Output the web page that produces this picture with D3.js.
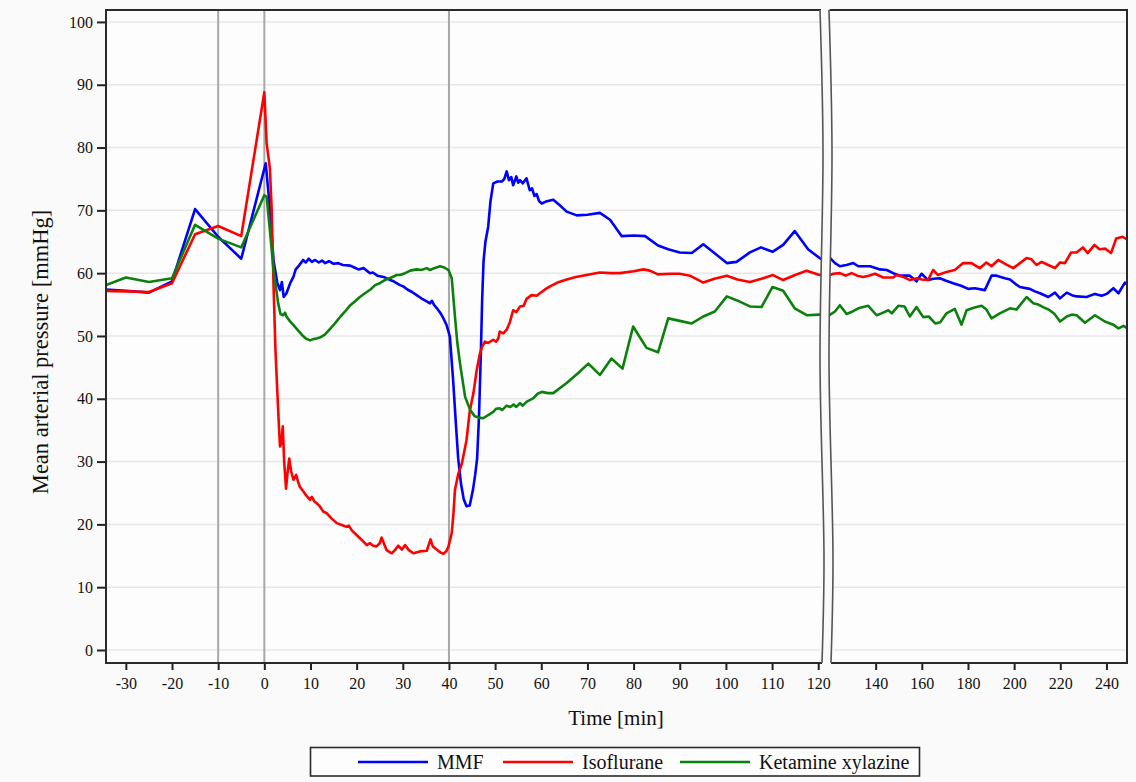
<!DOCTYPE html>
<html>
<head>
<meta charset="utf-8">
<script src="https://cdn.jsdelivr.net/npm/d3@7"></script>
<style>
  html, body { margin: 0; padding: 0; background: #fafafa; }
  svg { display: block; }
  text { font-family: "Liberation Serif", "Times New Roman", serif; fill: #111; }
</style>
</head>
<body>
<svg id="chart" width="1136" height="782"></svg>
<script>
// Mean arterial pressure [mmHg] over time [min], one [time, value] pair per sample
const mmf = [
  [-35,57.4],[-30,57.2],[-25,56.9],[-20,58.7],[-15,70.2],[-10,65.8],[-5,62.3],
  [0.3,77.5],[1,72],[2,62],[2.8,58.5],[3.4,57.3],[3.8,58.6],[4.2,56.2],[4.8,56.8],
  [5.6,58.4],[6.3,59.4],[6.8,60.6],[7.5,61.2],[8.4,62.1],[9,61.7],[9.6,62.3],
  [10.3,61.8],[11,62.1],[11.8,61.7],[12.5,62.0],[13.2,61.6],[14,61.9],[15,61.5],
  [16,61.6],[17,61.3],[18.6,61.2],[19.5,60.9],[20.4,60.6],[21.5,60.8],[22.9,60.0],
  [23.5,60.1],[24.5,59.6],[25.8,59.4],[27,59.0],[28,58.7],[29.4,58.1],[30.1,57.9],
  [31,57.4],[32,57.0],[33,56.5],[34,56.0],[35,55.6],[35.9,55.2],[36.3,55.6],
  [36.8,54.9],[37.5,54.3],[38.2,53.6],[38.8,52.8],[39.5,51.7],[40.2,49.9],
  [40.9,43],[41.5,36],[42,30.5],[42.6,26.5],[43.2,24],[43.8,22.9],[44.5,23.0],
  [45.2,25.5],[45.7,28],[46.1,30.5],[46.5,37],[46.9,47],[47.2,56],[47.5,62],
  [47.9,65],[48.5,67.4],[49.0,71.5],[49.6,74.3],[50.5,74.6],[51.5,74.6],[52.0,75.0],
  [52.5,76.2],[53.0,74.8],[53.5,75.3],[53.9,74.0],[54.6,75.4],[55.0,74.4],[55.4,74.8],
  [56.0,74.3],[56.8,75.1],[57.5,73.2],[58.0,73.5],[58.5,72.3],[59.0,72.6],[59.5,71.5],
  [60.1,71.1],[61,71.4],[62.6,71.7],[64,70.8],[65.5,69.8],[67.7,69.2],[70,69.3],
  [72.7,69.6],[74.9,68.5],[77.4,65.9],[80,66],[82.5,65.9],[85.3,64.4],[87.5,63.8],
  [90,63.3],[92.6,63.2],[95.1,64.6],[97.5,63.2],[100.2,61.6],[102.3,61.8],[105.2,63.3],
  [107.6,64.1],[110.1,63.4],[112.4,64.5],[114.9,66.7],[117.8,63.8],[120.3,62.4],
  [122.4,61.6],[124.5,61.1],[127.4,61.3],[130.3,61.6],[132.5,61.1],[135,61.1],
  [137.6,61.1],[141.9,60.6],[144.8,60.5],[147.6,60.0],[150.5,59.6],[154.8,59.6],
  [157.7,58.7],[159.9,59.9],[162.7,58.9],[165,59.1],[167.8,59.2],[170.5,58.8],
  [173.6,58.4],[177,58.0],[180.1,57.5],[183,57.6],[187.3,57.3],[190.2,59.6],
  [192.4,59.6],[196,59.2],[198.2,59.0],[200.5,58.3],[202.5,57.8],[206.8,57.5],
  [209,57.1],[211.2,56.8],[214.8,56.2],[217.7,56.9],[219.9,56.0],[222.8,56.9],
  [225,56.5],[227.1,56.3],[231.4,56.2],[235,56.7],[237.9,56.4],[240.1,56.7],
  [243,57.6],[245.2,56.8],[248,58.5],[250,57.9]
];

const isoflurane = [
  [-35,57.2],[-30,57.1],[-25,57.0],[-20,58.4],[-15,66.2],[-10,67.5],[-5,65.9],
  [0,88.8],[0.5,80.7],[1.2,76.7],[1.6,70],[2.0,58],[2.4,48],[2.7,43],[3.1,36.6],
  [3.4,32.4],[3.7,33],[4.0,35.6],[4.3,30],[4.7,25.7],[5.0,28],[5.4,30.5],[5.8,28.5],
  [6.3,27.1],[6.9,27.9],[7.3,26.8],[7.7,26.0],[8.5,25.2],[9.2,24.5],[9.9,23.9],
  [10.3,24.4],[10.8,23.7],[11.3,23.4],[12,22.9],[12.8,22.0],[13.5,21.8],[14.5,21.0],
  [15.7,20.2],[16.8,19.9],[17.8,19.6],[18.3,19.8],[19,19.0],[20,18.3],[21,17.6],
  [22.2,16.7],[22.9,17.0],[23.6,16.6],[24.3,16.5],[25,17.0],[25.4,17.9],[26,16.8],
  [26.5,15.9],[27.6,15.4],[28.3,15.9],[29,16.6],[29.8,16.0],[30.5,16.7],[31.3,15.9],
  [32.3,15.4],[33.7,15.7],[35.2,15.8],[36,17.6],[36.5,16.5],[37,16.2],[38,15.6],
  [38.8,15.3],[39.5,15.8],[39.9,16.5],[40.6,18.6],[41.0,22],[41.3,25.5],[42,28],
  [42.8,29.7],[43.8,33.4],[44.5,38],[45.3,40.9],[46,44.5],[46.7,47.2],[47.2,48.3],
  [47.8,49.1],[48.5,48.9],[49.6,49.4],[50.2,49.1],[50.7,49.6],[51,50.7],[51.8,50.4],
  [52.5,51],[53.2,52.2],[53.9,54.1],[54.6,53.8],[55.4,54.7],[56.2,54.8],[56.8,55.9],
  [57.9,56.5],[59,56.4],[59.7,56.8],[61,57.5],[61.9,57.9],[63.5,58.5],[65.5,59.0],
  [67.5,59.4],[69.8,59.7],[72.7,60.1],[75,60.0],[77,60.0],[80,60.3],[82.1,60.6],
  [83.5,60.4],[85.3,59.8],[88,59.9],[90,59.9],[92.2,59.6],[95.1,58.5],[97.5,59.1],
  [100.2,59.6],[102.5,59.0],[105.2,58.6],[107.7,59.1],[110.2,59.7],[112.4,58.9],
  [115,59.7],[117.5,60.4],[120.3,59.7],[121.7,59.9],[124.5,60.0],[127,59.6],
  [129.6,60.0],[132,59.6],[134.6,59.4],[137,59.6],[139.7,59.9],[143.3,59.3],
  [147.6,59.3],[149.1,59.7],[152,59.4],[154.8,58.9],[158,59.2],[160,59.0],
  [162.7,58.9],[164.9,60.5],[167,59.7],[170.7,60.2],[174.3,60.5],[177.9,61.6],
  [181.5,61.6],[185.1,60.8],[188,61.7],[190.2,61.1],[193.1,62.1],[196.5,61.4],
  [199.6,60.8],[202.5,61.6],[205.4,62.4],[207.5,62.2],[209.7,61.3],[211.9,61.8],
  [214.8,61.3],[217.7,60.8],[219.9,61.7],[222,61.6],[224.7,63.3],[227,63.3],
  [229.8,64.1],[231.9,63.2],[234.8,64.5],[237,63.8],[239.5,63.9],[242,63.2],
  [244.2,65.5],[247,65.8],[250,65.1]
];

const ketamineXylazine = [
  [-35,57.9],[-30,59.3],[-25,58.6],[-20,59.2],[-15,67.7],[-10,65.5],[-5,64.1],
  [0,72.4],[0.5,72.2],[1.2,66.9],[2.0,60.5],[3.0,55.2],[3.5,53.5],[4.1,53.3],
  [4.5,53.7],[4.8,53.1],[5.5,52.4],[6.6,51.5],[8.1,50.2],[9,49.6],[9.9,49.3],
  [10.6,49.5],[11.3,49.6],[12.2,49.8],[13.1,50.2],[14.2,51.1],[15.3,52],[16.5,53.1],
  [17.5,53.9],[18.5,54.8],[19.6,55.5],[20.7,56.2],[21.8,56.8],[23,57.4],[24,58.1],
  [25,58.4],[26.1,58.9],[27.5,59.3],[28.7,59.7],[29.4,59.7],[30.5,60.0],[31.6,60.4],
  [33,60.6],[34,60.5],[35.2,60.8],[35.9,60.5],[36.8,60.8],[38.1,61.1],[39,60.9],
  [39.9,60.5],[40.6,59.2],[41.3,53.1],[41.8,49],[42.4,45.6],[43.5,40.3],[44.6,38.2],
  [45.6,37.2],[46.5,37.0],[47.4,36.9],[48.5,37.4],[49.6,37.9],[50.2,38.4],[51,38.5],
  [51.5,38.2],[52.5,38.9],[53.3,38.7],[54,39.1],[54.6,38.7],[55.4,39.3],[56,38.9],
  [56.8,39.5],[58.3,40.1],[59.2,40.8],[60.1,41.1],[61.4,40.9],[62.6,40.9],[65.5,42.5],
  [68,44.1],[70.2,45.6],[72.7,43.8],[75.2,46.4],[77.6,44.8],[79.9,51.5],[82.8,48.1],
  [85.3,47.4],[87.5,52.8],[90,52.4],[92.6,52.0],[95.1,53.1],[97.6,53.9],[100.2,56.3],
  [102.3,55.7],[105.2,54.7],[107.7,54.6],[110.1,57.8],[112.4,57.2],[114.9,54.4],
  [117.5,53.3],[120.3,53.4],[122.4,53.9],[124.5,54.9],[127.4,53.5],[130,53.9],
  [132.5,54.4],[136.8,54.8],[140.4,53.3],[142.5,53.6],[145.5,54.1],[147,53.6],
  [149.8,54.8],[152.5,54.7],[154.8,53.1],[157.7,54.6],[160.6,53.0],[163,53.1],
  [165.8,52.0],[168,52.2],[170.7,53.6],[174.3,54.3],[177.2,51.8],[179.4,54.1],
  [182.5,54.5],[185.9,54.8],[188,54.2],[190.2,52.8],[193.8,53.6],[198.2,54.4],
  [201,54.2],[205.4,56.2],[208.3,55.2],[210.5,55.0],[212.6,54.6],[215,54.2],
  [217.5,53.5],[219.9,52.3],[222.8,53.1],[225,53.4],[227.1,53.3],[230.7,52.1],
  [235,53.3],[239.3,52.3],[243,51.8],[245.2,51.2],[247.4,51.6],[250,51.0]
];

const seriesNames = ["MMF", "Isoflurane", "Ketamine xylazine"];
const seriesColors = ["#0000ff", "#ff0000", "#0c800c"];
const seriesData = [mmf, isoflurane, ketamineXylazine];

const yTicks = d3.range(0, 101, 10);
const xTicksLeft = d3.range(-30, 121, 10);
const xTicksRight = [140, 160, 180, 200, 220, 240];
const markerTimes = [-10, 0, 40];

// Layout
const plotTop = 10, plotBottom = 663;
const leftPanel = [106, 821];
const rightPanel = [829.5, 1127];

const svg = d3.select("#chart");

const xLeft = d3.scaleLinear().domain([-34.3, 120.6]).range(leftPanel);
const xRight = d3.scaleLinear().domain([120, 248.9]).range(rightPanel);
const y = d3.scaleLinear().domain([-2.07, 101.9]).range([plotBottom, plotTop]);

const panels = [
  { id: "left", x: xLeft, range: leftPanel },
  { id: "right", x: xRight, range: rightPanel }
];

// Plot backgrounds and clip regions
const defs = svg.append("defs");
panels.forEach(p => {
  defs.append("clipPath").attr("id", "clip-" + p.id)
    .append("rect")
    .attr("x", p.range[0]).attr("y", plotTop)
    .attr("width", p.range[1] - p.range[0]).attr("height", plotBottom - plotTop);
  svg.append("rect")
    .attr("x", p.range[0]).attr("y", plotTop)
    .attr("width", p.range[1] - p.range[0]).attr("height", plotBottom - plotTop)
    .attr("fill", "#fdfdfd");
});

// Horizontal grid
panels.forEach(p => {
  svg.append("g").selectAll("line").data(yTicks).join("line")
    .attr("x1", p.range[0]).attr("x2", p.range[1])
    .attr("y1", d => y(d)).attr("y2", d => y(d))
    .attr("stroke", "#e7e7e7").attr("stroke-width", 1.5);
});

// Event markers
svg.append("g").selectAll("line").data(markerTimes).join("line")
  .attr("x1", d => xLeft(d)).attr("x2", d => xLeft(d))
  .attr("y1", plotTop).attr("y2", plotBottom)
  .attr("stroke", "#a8a8a8").attr("stroke-width", 2);

// Series lines, drawn in each panel with its own time scale
panels.forEach(p => {
  const g = svg.append("g").attr("clip-path", "url(#clip-" + p.id + ")");
  const line = d3.line().x(d => p.x(d[0])).y(d => y(d[1]));
  seriesData.forEach((data, i) => {
    g.append("path")
      .datum(data)
      .attr("d", line)
      .attr("fill", "none")
      .attr("stroke", seriesColors[i])
      .attr("stroke-width", 2.6)
      .attr("stroke-linejoin", "round");
  });
});

// Axes (plain hyphen for negative ticks)
const plain = d => String(d);
const yAxis = svg.append("g")
  .attr("transform", `translate(${leftPanel[0]},0)`)
  .call(d3.axisLeft(y).tickValues(yTicks).tickFormat(plain).tickSize(9).tickPadding(4));
const xAxisL = svg.append("g")
  .attr("transform", `translate(0,${plotBottom})`)
  .call(d3.axisBottom(xLeft).tickValues(xTicksLeft).tickFormat(plain).tickSize(7).tickPadding(8));
const xAxisR = svg.append("g")
  .attr("transform", `translate(0,${plotBottom})`)
  .call(d3.axisBottom(xRight).tickValues(xTicksRight).tickFormat(plain).tickSize(7).tickPadding(8));
[yAxis, xAxisL, xAxisR].forEach(a => {
  a.select(".domain").remove();
  a.selectAll(".tick line").attr("stroke", "#222").attr("stroke-width", 2);
  a.selectAll(".tick text")
    .attr("font-family", '"Liberation Serif", "Times New Roman", serif')
    .attr("font-size", 16).attr("fill", "#111");
});

// Frame with axis break
const frame = svg.append("g").attr("fill", "none").attr("stroke", "#2a2a2a").attr("stroke-width", 2);
frame.append("path").attr("d",
  `M${leftPanel[1]},${plotTop} H${leftPanel[0]} V${plotBottom} H${leftPanel[1] + 1}`);
frame.append("path").attr("d",
  `M${rightPanel[0]},${plotTop} H${rightPanel[1]} V${plotBottom} H${rightPanel[0] + 1.5}`);

const breakCurve = d3.line().curve(d3.curveCatmullRom);
const breakLeft = [[820, plotTop], [823, 150], [820, 360], [824, 560], [822, plotBottom]];
const breakRight = breakLeft.map(p => [p[0] + 9, p[1]]);
svg.append("path")
  .attr("d", breakCurve(breakLeft.concat(breakRight.slice().reverse())) + "Z")
  .attr("fill", "#fafafa").attr("stroke", "none");
[breakLeft, breakRight].forEach(pts => {
  svg.append("path").attr("d", breakCurve(pts))
    .attr("fill", "none").attr("stroke", "#555").attr("stroke-width", 1.6);
});

// Axis titles
svg.append("text")
  .attr("x", 616).attr("y", 725)
  .attr("text-anchor", "middle")
  .attr("font-size", 21)
  .text("Time [min]");
svg.append("text")
  .attr("transform", "translate(48,352) rotate(-90)")
  .attr("text-anchor", "middle")
  .attr("font-size", 22.5)
  .text("Mean arterial pressure [mmHg]");

// Legend
const legend = svg.append("g");
legend.append("rect")
  .attr("x", 310.5).attr("y", 747.5).attr("width", 609).attr("height", 28.5)
  .attr("fill", "#fdfdfd").attr("stroke", "#2a2a2a").attr("stroke-width", 1.6);
const legendX = [358, 503, 680];
seriesNames.forEach((name, i) => {
  legend.append("line")
    .attr("x1", legendX[i]).attr("x2", legendX[i] + 70)
    .attr("y1", 762).attr("y2", 762)
    .attr("stroke", seriesColors[i]).attr("stroke-width", 2.6);
  legend.append("text")
    .attr("x", legendX[i] + 79).attr("y", 769)
    .attr("font-size", 20)
    .text(name);
});
</script>
</body>
</html>
